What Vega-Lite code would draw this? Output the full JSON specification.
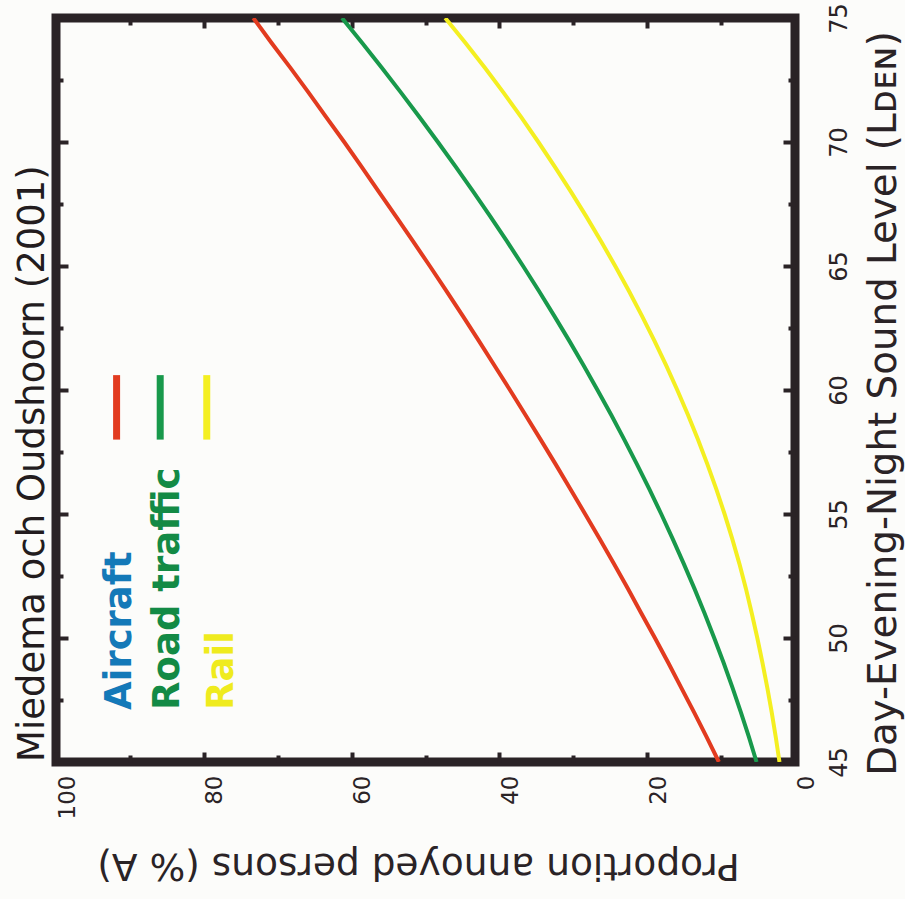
{
  "$schema": "https://vega.github.io/schema/vega-lite/v6.json",
  "width": 739,
  "height": 744,
  "autosize": "none",
  "padding": {"left": 56, "top": 18, "right": 110, "bottom": 137},
  "background": "#fcfcfa",
  "title": {
    "text": "Miedema och Oudshoorn (2001)",
    "orient": "left",
    "anchor": "start",
    "frame": "group",
    "baseline": "bottom",
    "font": "DejaVu Sans",
    "fontSize": 37,
    "fontWeight": "normal",
    "color": "#231c1e",
    "offset": -35
  },
  "data": {
    "values": [
      {"source": "Aircraft", "L": 45, "p": 10.3}, {"source": "Aircraft", "L": 46, "p": 11.95}, {"source": "Aircraft", "L": 47, "p": 13.65}, {"source": "Aircraft", "L": 48, "p": 15.4}, {"source": "Aircraft", "L": 49, "p": 17.15}, {"source": "Aircraft", "L": 50, "p": 18.95}, {"source": "Aircraft", "L": 51, "p": 20.8}, {"source": "Aircraft", "L": 52, "p": 22.62}, {"source": "Aircraft", "L": 53, "p": 24.52}, {"source": "Aircraft", "L": 54, "p": 26.44}, {"source": "Aircraft", "L": 55, "p": 28.4}, {"source": "Aircraft", "L": 56, "p": 30.38}, {"source": "Aircraft", "L": 57, "p": 32.38}, {"source": "Aircraft", "L": 58, "p": 34.42}, {"source": "Aircraft", "L": 59, "p": 36.49}, {"source": "Aircraft", "L": 60, "p": 38.57}, {"source": "Aircraft", "L": 61, "p": 40.69}, {"source": "Aircraft", "L": 62, "p": 42.82}, {"source": "Aircraft", "L": 63, "p": 44.98}, {"source": "Aircraft", "L": 64, "p": 47.18}, {"source": "Aircraft", "L": 65, "p": 49.42}, {"source": "Aircraft", "L": 66, "p": 51.7}, {"source": "Aircraft", "L": 67, "p": 54.0}, {"source": "Aircraft", "L": 68, "p": 56.33}, {"source": "Aircraft", "L": 69, "p": 58.64}, {"source": "Aircraft", "L": 70, "p": 61.0}, {"source": "Aircraft", "L": 71, "p": 63.44}, {"source": "Aircraft", "L": 72, "p": 65.84}, {"source": "Aircraft", "L": 73, "p": 68.3}, {"source": "Aircraft", "L": 74, "p": 70.85}, {"source": "Aircraft", "L": 75, "p": 73.3},
      {"source": "Road traffic", "L": 45, "p": 5.2}, {"source": "Road traffic", "L": 46, "p": 6.23}, {"source": "Road traffic", "L": 47, "p": 7.32}, {"source": "Road traffic", "L": 48, "p": 8.46}, {"source": "Road traffic", "L": 49, "p": 9.66}, {"source": "Road traffic", "L": 50, "p": 10.93}, {"source": "Road traffic", "L": 51, "p": 12.24}, {"source": "Road traffic", "L": 52, "p": 13.62}, {"source": "Road traffic", "L": 53, "p": 15.06}, {"source": "Road traffic", "L": 54, "p": 16.55}, {"source": "Road traffic", "L": 55, "p": 18.1}, {"source": "Road traffic", "L": 56, "p": 19.71}, {"source": "Road traffic", "L": 57, "p": 21.38}, {"source": "Road traffic", "L": 58, "p": 23.1}, {"source": "Road traffic", "L": 59, "p": 24.88}, {"source": "Road traffic", "L": 60, "p": 26.73}, {"source": "Road traffic", "L": 61, "p": 28.62}, {"source": "Road traffic", "L": 62, "p": 30.58}, {"source": "Road traffic", "L": 63, "p": 32.6}, {"source": "Road traffic", "L": 64, "p": 34.67}, {"source": "Road traffic", "L": 65, "p": 36.8}, {"source": "Road traffic", "L": 66, "p": 38.99}, {"source": "Road traffic", "L": 67, "p": 41.24}, {"source": "Road traffic", "L": 68, "p": 43.54}, {"source": "Road traffic", "L": 69, "p": 45.9}, {"source": "Road traffic", "L": 70, "p": 48.33}, {"source": "Road traffic", "L": 71, "p": 50.8}, {"source": "Road traffic", "L": 72, "p": 53.34}, {"source": "Road traffic", "L": 73, "p": 55.94}, {"source": "Road traffic", "L": 74, "p": 58.59}, {"source": "Road traffic", "L": 75, "p": 61.3},
      {"source": "Rail", "L": 45, "p": 2.1}, {"source": "Rail", "L": 46, "p": 2.6}, {"source": "Rail", "L": 47, "p": 3.15}, {"source": "Rail", "L": 48, "p": 3.75}, {"source": "Rail", "L": 49, "p": 4.4}, {"source": "Rail", "L": 50, "p": 5.1}, {"source": "Rail", "L": 51, "p": 5.85}, {"source": "Rail", "L": 52, "p": 6.65}, {"source": "Rail", "L": 53, "p": 7.53}, {"source": "Rail", "L": 54, "p": 8.49}, {"source": "Rail", "L": 55, "p": 9.53}, {"source": "Rail", "L": 56, "p": 10.65}, {"source": "Rail", "L": 57, "p": 11.85}, {"source": "Rail", "L": 58, "p": 13.13}, {"source": "Rail", "L": 59, "p": 14.49}, {"source": "Rail", "L": 60, "p": 15.93}, {"source": "Rail", "L": 61, "p": 17.45}, {"source": "Rail", "L": 62, "p": 19.05}, {"source": "Rail", "L": 63, "p": 20.73}, {"source": "Rail", "L": 64, "p": 22.49}, {"source": "Rail", "L": 65, "p": 24.33}, {"source": "Rail", "L": 66, "p": 26.25}, {"source": "Rail", "L": 67, "p": 28.25}, {"source": "Rail", "L": 68, "p": 30.33}, {"source": "Rail", "L": 69, "p": 32.49}, {"source": "Rail", "L": 70, "p": 34.73}, {"source": "Rail", "L": 71, "p": 37.05}, {"source": "Rail", "L": 72, "p": 39.47}, {"source": "Rail", "L": 73, "p": 41.99}, {"source": "Rail", "L": 74, "p": 44.61}, {"source": "Rail", "L": 75, "p": 47.33}
    ]
  },
  "layer": [
    {
      "mark": {"type": "line", "strokeWidth": 4, "clip": true},
      "encoding": {
        "x": {
          "field": "p", "type": "quantitative",
          "scale": {"domain": [0, 100], "reverse": true, "nice": false, "zero": false},
          "axis": {
            "orient": "bottom", "values": [0, 20, 40, 60, 80, 100],
            "domain": false, "grid": false,
            "tickSize": -10, "tickWidth": 4, "tickColor": "#2a2326",
            "labelAngle": 270, "labelAlign": "right", "labelBaseline": "top",
            "labelPadding": 23, "labelFlush": false, "labelOverlap": false, "labelBound": false,
            "labelFont": "DejaVu Sans", "labelFontSize": 23, "labelColor": "#2a2326",
            "title": "Proportion annoyed persons (% A)",
            "titleAngle": 180, "titleBaseline": "bottom",
            "titleFont": "DejaVu Sans", "titleFontSize": 37.5, "titleFontWeight": "normal",
            "titleColor": "#2a2326", "titlePadding": 27, "titleX": 362
          }
        },
        "y": {
          "field": "L", "type": "quantitative",
          "scale": {"domain": [45, 75], "nice": false, "zero": false},
          "axis": {
            "orient": "right", "values": [45, 50, 55, 60, 65, 70, 75],
            "domain": false, "grid": false,
            "tickSize": -12, "tickWidth": 4, "tickColor": "#2a2326",
            "labelAngle": 270, "labelAlign": "center", "labelBaseline": "top",
            "labelPadding": 44, "labelFlush": false, "labelOverlap": false, "labelBound": false,
            "labelFont": "DejaVu Sans", "labelFontSize": 24, "labelColor": "#2a2326",
            "title": "Day-Evening-Night Sound Level (Lᴅᴇɴ)",
            "titleAngle": 270, "titleBaseline": "top",
            "titleFont": "DejaVu Sans", "titleFontSize": 38.8, "titleFontWeight": "normal",
            "titleColor": "#2a2326", "titlePadding": 13, "titleY": 385
          }
        },
        "color": {
          "field": "source", "type": "nominal",
          "scale": {"domain": ["Aircraft", "Road traffic", "Rail"], "range": ["#e23b1f", "#18994b", "#f4ef21"]},
          "legend": null
        }
      }
    },
    {
      "mark": {"type": "line", "opacity": 0},
      "encoding": {
        "x": {"field": "p", "type": "quantitative", "axis": {"orient": "bottom", "values": [10, 30, 50, 70, 90], "domain": false, "grid": false, "labels": false, "title": null, "minExtent": 0, "tickSize": -7, "tickWidth": 4, "tickColor": "#2a2326"}},
        "y": {"field": "L", "type": "quantitative", "axis": {"orient": "right", "values": [47.5, 52.5, 57.5, 62.5, 67.5, 72.5], "domain": false, "grid": false, "labels": false, "title": null, "minExtent": 0, "tickSize": -7, "tickWidth": 4, "tickColor": "#2a2326"}},
        "detail": {"field": "source"}
      }
    },
    {
      "mark": {"type": "line", "opacity": 0},
      "encoding": {
        "x": {"field": "p", "type": "quantitative", "axis": {"orient": "top", "values": [20, 40, 60, 80], "domain": false, "grid": false, "labels": false, "title": null, "minExtent": 0, "tickSize": -10, "tickWidth": 4, "tickColor": "#2a2326"}},
        "y": {"field": "L", "type": "quantitative", "axis": {"orient": "left", "values": [50, 55, 60, 65, 70], "domain": false, "grid": false, "labels": false, "title": null, "minExtent": 0, "tickSize": -12, "tickWidth": 4, "tickColor": "#2a2326"}},
        "detail": {"field": "source"}
      }
    },
    {
      "mark": {"type": "line", "opacity": 0},
      "encoding": {
        "x": {"field": "p", "type": "quantitative", "axis": {"orient": "top", "values": [10, 30, 50, 70, 90], "domain": false, "grid": false, "labels": false, "title": null, "minExtent": 0, "tickSize": -7, "tickWidth": 4, "tickColor": "#2a2326"}},
        "y": {"field": "L", "type": "quantitative", "axis": {"orient": "left", "values": [47.5, 52.5, 57.5, 62.5, 67.5, 72.5], "domain": false, "grid": false, "labels": false, "title": null, "minExtent": 0, "tickSize": -7, "tickWidth": 4, "tickColor": "#2a2326"}},
        "detail": {"field": "source"}
      }
    },
    {
      "data": {"values": [{"label": "Aircraft"}]},
      "mark": {"type": "text", "angle": 270, "align": "left", "baseline": "alphabetic", "font": "DejaVu Sans", "fontSize": 37, "fontWeight": "bold", "color": "#1479b8"},
      "encoding": {
        "text": {"field": "label"},
        "x": {"datum": 89.8, "type": "quantitative", "axis": null},
        "y": {"datum": 47.1, "type": "quantitative", "axis": null}
      }
    },
    {
      "data": {"values": [{"label": "Road traffic"}]},
      "mark": {"type": "text", "angle": 270, "align": "left", "baseline": "alphabetic", "font": "DejaVu Sans", "fontSize": 37, "fontWeight": "bold", "color": "#138a45"},
      "encoding": {
        "text": {"field": "label"},
        "x": {"datum": 83.4, "type": "quantitative", "axis": null},
        "y": {"datum": 47.1, "type": "quantitative", "axis": null}
      }
    },
    {
      "data": {"values": [{"label": "Rail"}]},
      "mark": {"type": "text", "angle": 270, "align": "left", "baseline": "alphabetic", "font": "DejaVu Sans", "fontSize": 37, "fontWeight": "bold", "color": "#efeb1e"},
      "encoding": {
        "text": {"field": "label"},
        "x": {"datum": 76.1, "type": "quantitative", "axis": null},
        "y": {"datum": 47.1, "type": "quantitative", "axis": null}
      }
    },
    {
      "data": {"values": [{"series": "Aircraft"}]},
      "mark": {"type": "rule", "strokeWidth": 7, "color": "#e23b1f"},
      "encoding": {
        "x": {"datum": 91.8, "type": "quantitative", "axis": null},
        "y": {"datum": 58.0, "type": "quantitative", "axis": null},
        "y2": {"datum": 60.6}
      }
    },
    {
      "data": {"values": [{"series": "Road traffic"}]},
      "mark": {"type": "rule", "strokeWidth": 7, "color": "#18994b"},
      "encoding": {
        "x": {"datum": 85.9, "type": "quantitative", "axis": null},
        "y": {"datum": 58.0, "type": "quantitative", "axis": null},
        "y2": {"datum": 60.6}
      }
    },
    {
      "data": {"values": [{"series": "Rail"}]},
      "mark": {"type": "rule", "strokeWidth": 7, "color": "#f4ef21"},
      "encoding": {
        "x": {"datum": 79.6, "type": "quantitative", "axis": null},
        "y": {"datum": 58.0, "type": "quantitative", "axis": null},
        "y2": {"datum": 60.6}
      }
    }
  ],
  "resolve": {"axis": {"x": "independent", "y": "independent"}},
  "config": {
    "view": {"stroke": "#2a2326", "strokeWidth": 9},
    "axis": {"labelFont": "DejaVu Sans", "titleFont": "DejaVu Sans"}
  }
}
